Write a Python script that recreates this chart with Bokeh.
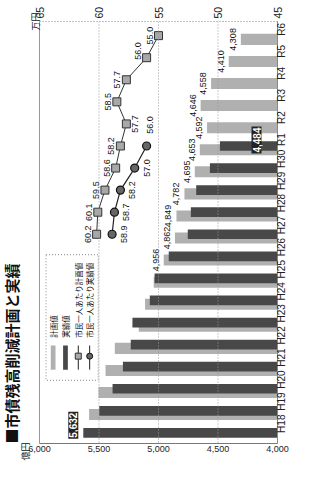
import math
from bokeh.plotting import figure
from bokeh.models import Range1d, LinearAxis, FixedTicker, Label, Span, NumeralTickFormatter, ColumnDataSource, Title
from bokeh.core.properties import value
from bokeh.embed import file_html
from bokeh.resources import INLINE

# ---------------- data ----------------
years = ["H18", "H19", "H20", "H21", "H22", "H23", "H24", "H25", "H26", "H27",
         "H28", "H29", "H30", "R1", "R2", "R3", "R4", "R5", "R6"]
actual_years = years[:14]
actual_debt = [5632, 5498, 5386, 5299, 5233, 5219, 5073, 5033, 4914, 4754, 4728, 4683, 4568, 4484]
plan_years = years[1:]
plan_debt = [5583, 5504, 5445, 5367, 5166, 5113, 5040, 4956, 4862, 4849, 4782, 4695, 4653,
             4592, 4646, 4558, 4410, 4308]
plan_label_from = "H26"
pc_plan_years = years[9:]
pc_plan = [60.2, 60.1, 59.5, 58.6, 58.2, 57.7, 58.5, 57.7, 56.0, 55.0]
pc_actual_years = years[9:14]
pc_actual = [58.9, 58.7, 58.2, 57.0, 56.0]
debt_ticks = [4000, 4500, 5000, 5500, 6000]
pc_ticks = [45, 50, 55, 60, 65]
title_text = "■市債残高削減計画と実績"
legend_texts = ["計画値", "実績値", "市民一人あたり計画値", "市民一人あたり実績値"]

# ---------------- geometry (canvas px) ----------------
W, H = 295, 461
SX, SY = W / 311, H / 477          # reference picture -> canvas
FL, FR, FT, FB = 39, 277, 21, 443
X0, X1 = 6000, 4000
Y0, Y1 = 18.64, -0.48
def dx(px):
    return X0 + (px - FL) * (X1 - X0) / (FR - FL)
def dy(py):
    return Y0 + (py - FT) * (Y1 - Y0) / (FB - FT)
def rx(x):
    return dx(x * SX)
def ry(y):
    return dy(y * SY)

ROT = math.pi / 2
NUM = "Liberation Sans"
NUM_FONT = value(NUM)
JP = "Noto Sans CJK JP"
JP_FONT = value(JP)
LIGHT = "#b0b0b0"
DARK = "#484848"
PLAN_SHIFT = -0.17

idx = {y: i for i, y in enumerate(years)}

p = figure(width=W, height=H, output_backend="svg", toolbar_location=None,
           x_range=Range1d(X0, X1), y_range=Range1d(Y1, Y0),
           x_axis_location=None, y_axis_location=None,
           min_border_left=FL, min_border_right=W - FR,
           min_border_top=FT, min_border_bottom=H - FB)
p.extra_x_ranges = {"pc": Range1d(65, 45)}
p.outline_line_color = None
p.background_fill_color = "white"
p.border_fill_color = "white"

def plain_ticks(ax):
    ax.major_tick_out = 0
    ax.major_tick_in = 0
    ax.minor_tick_out = 0
    ax.minor_tick_in = 0
    ax.major_label_text_font = NUM
    ax.major_label_text_color = "#222222"

# bottom axis (億円)
ax_b = LinearAxis(ticker=FixedTicker(ticks=debt_ticks), formatter=NumeralTickFormatter(format="0,0"))
plain_ticks(ax_b)
ax_b.major_label_standoff = 2
ax_b.axis_line_color = "#777777"
ax_b.major_label_text_font_size = "9px"
p.add_layout(ax_b, "below")

# top axis (万円)
ax_t = LinearAxis(x_range_name="pc", ticker=FixedTicker(ticks=pc_ticks))
plain_ticks(ax_t)
ax_t.major_label_standoff = 3
ax_t.major_label_orientation = ROT
ax_t.axis_line_color = "#888888"
ax_t.axis_line_dash = "1 2"
ax_t.major_label_text_font_size = "10.5px"
p.add_layout(ax_t, "above")

# right category axis
ax_r = LinearAxis(ticker=FixedTicker(ticks=list(range(len(years)))),
                  major_label_overrides={i: y for i, y in enumerate(years)})
plain_ticks(ax_r)
ax_r.major_label_standoff = 4
ax_r.major_label_orientation = ROT
ax_r.axis_line_color = "#888888"
ax_r.major_label_text_font_size = "10px"
p.add_layout(ax_r, "right")

p.xgrid.grid_line_color = None
p.ygrid.grid_line_color = None
for t in debt_ticks[1:-1]:
    p.add_layout(Span(location=t, dimension="height", line_color="#999999",
                      line_dash="1 2", line_width=1))
p.add_layout(Span(location=debt_ticks[-1], dimension="height", line_color="#333333", line_width=1))

# bars
plan_src = ColumnDataSource(dict(y=[idx[y] + PLAN_SHIFT for y in plan_years], v=plan_debt))
act_src = ColumnDataSource(dict(y=[idx[y] for y in actual_years], v=actual_debt))
p.hbar(y="y", left=debt_ticks[0], right="v", height=0.5, source=plan_src,
       fill_color=LIGHT, line_color=None)
p.hbar(y="y", left=debt_ticks[0], right="v", height=0.44, source=act_src,
       fill_color=DARK, line_color=None)

# plan value labels
start = plan_years.index(plan_label_from)
p.text(x=plan_debt[start:], y=[idx[y] + PLAN_SHIFT for y in plan_years[start:]],
       text=[f"{v:,}" for v in plan_debt[start:]], angle=ROT, x_offset=-5,
       text_align="center", text_baseline="bottom", text_font=NUM_FONT,
       text_font_size="9px", text_color="#111111")

# highlighted actual labels (white on dark)
p.add_layout(Label(x=actual_debt[0], y=idx[actual_years[0]] + 0.35, text=f"{actual_debt[0]:,}",
                   angle=ROT, x_offset=-5, text_align="center", text_baseline="bottom",
                   text_font=NUM, text_font_size="10px",
                   text_font_style="bold", text_color="white",
                   background_fill_color="#222222", padding=1))
p.add_layout(Label(x=debt_ticks[0], y=idx[actual_years[-1]] + 0.27, text=f"{actual_debt[-1]:,}",
                   angle=ROT, x_offset=-16, text_align="center", text_baseline="bottom",
                   text_font=NUM, text_font_size="10px",
                   text_font_style="bold", text_color="white",
                   background_fill_color="#222222", padding=1))

# per-capita lines
pp_y = [idx[y] for y in pc_plan_years]
pa_y = [idx[y] for y in pc_actual_years]
p.line(x=pc_plan, y=pp_y, x_range_name="pc", line_color="#333333", line_width=1)
p.scatter(x=pc_plan, y=pp_y, x_range_name="pc", marker="square", size=8,
          fill_color="#a8a8a8", line_color="#333333", line_width=1)
p.line(x=pc_actual, y=pa_y, x_range_name="pc", line_color="#222222", line_width=1.2)
p.scatter(x=pc_actual, y=pa_y, x_range_name="pc", marker="circle", size=8,
          fill_color="#666666", line_color="#111111", line_width=1.2)

# per-capita labels: plan on the marker's left (one on the right), actual on the right
right_side_plan = {"R2"}
lift = {"R5": 0.3}
pl_left = [(v, idx[y] + lift.get(y, 0)) for v, y in zip(pc_plan, pc_plan_years) if y not in right_side_plan]
pl_right = [(v, idx[y]) for v, y in zip(pc_plan, pc_plan_years) if y in right_side_plan]
p.text(x=[a for a, b in pl_left], y=[b for a, b in pl_left], x_range_name="pc",
       text=[f"{a:.1f}" for a, b in pl_left], angle=ROT, x_offset=-6,
       text_align="center", text_baseline="bottom",
       text_font=NUM_FONT, text_font_size="9px", text_color="#111111")
p.text(x=[a for a, b in pl_right], y=[b for a, b in pl_right], x_range_name="pc",
       text=[f"{a:.1f}" for a, b in pl_right], angle=ROT, x_offset=6,
       text_align="center", text_baseline="top",
       text_font=NUM_FONT, text_font_size="9px", text_color="#111111")
p.text(x=pc_actual[:-1], y=pa_y[:-1], x_range_name="pc",
       text=[f"{v:.1f}" for v in pc_actual[:-1]], angle=ROT, x_offset=9,
       text_align="center", text_baseline="top",
       text_font=NUM_FONT, text_font_size="9px", text_color="#111111")
p.text(x=pc_actual[-1:], y=[pa_y[-1] + 0.95], x_range_name="pc",
       text=[f"{pc_actual[-1]:.1f}"], angle=ROT, x_offset=0,
       text_align="center", text_baseline="top",
       text_font=NUM_FONT, text_font_size="9px", text_color="#111111")

# legend (manual, rotated; positions)
p.quad(left=[rx(48)], right=[rx(103)], top=[ry(263)], bottom=[ry(393)],
       fill_color="white", line_color="#888888", line_dash="1 2", line_width=1)
sym_y0, sym_y1 = ry(382), ry(357)
lx = [55.5, 68.5, 82, 94]
p.quad(left=[rx(lx[0] - 2.5)], right=[rx(lx[0] + 2.5)], bottom=[sym_y0], top=[sym_y1],
       fill_color=LIGHT, line_color=None)
p.quad(left=[rx(lx[1] - 2.5)], right=[rx(lx[1] + 2.5)], bottom=[sym_y0], top=[sym_y1],
       fill_color=DARK, line_color=None)
p.segment(x0=[rx(lx[2]), rx(lx[3])], x1=[rx(lx[2]), rx(lx[3])], y0=[sym_y0, sym_y0],
          y1=[sym_y1, sym_y1], line_color="#222222", line_width=1)
p.scatter(x=[rx(lx[2])], y=[ry(368)], marker="square", size=6, fill_color="#a8a8a8", line_color="#333333")
p.scatter(x=[rx(lx[3])], y=[ry(368)], marker="circle", size=6, fill_color="#666666", line_color="#111111")
p.text(x=[rx(v) for v in lx], y=[ry(349)] * 4, text=legend_texts, angle=ROT,
       text_align="left", text_baseline="middle", text_font=JP_FONT,
       text_font_size="7.5px", text_color="#111111")

# title and units in the left side panel (nearest the frame first)
p.add_layout(Title(text="万円", align="right", offset=-9, standoff=-5, text_font=JP,
                   text_font_size="9px", text_font_style="normal", text_color="#111111"), "left")
p.add_layout(Title(text="億円", align="left", offset=-17, standoff=-5, text_font=JP,
                   text_font_size="9px", text_font_style="normal", text_color="#111111"), "left")
p.add_layout(Title(text=title_text, align="left", offset=0, standoff=-4, text_font=JP,
                   text_font_size="15px", text_font_style="bold", text_color="#111111"), "left")

open("out.html", "w").write(file_html(p, INLINE))
